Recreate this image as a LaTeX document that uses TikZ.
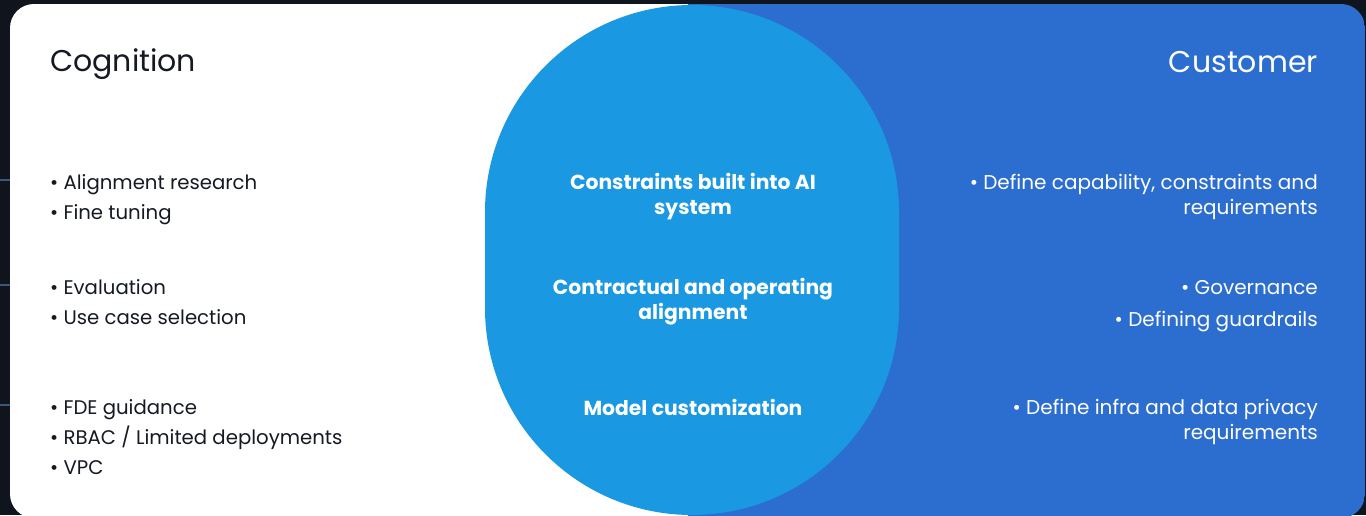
\documentclass[tikz,border=0pt]{standalone}
\usepackage{fontspec}
\setmainfont{Poppins}
\usepackage{tikz}
\usetikzlibrary{positioning}
\definecolor{bgdark}{HTML}{10141C}
\definecolor{tickblue}{HTML}{3D5680}
\definecolor{inkdark}{HTML}{151A22}
\definecolor{skyblue}{HTML}{1A98E1}
\definecolor{panelblue}{HTML}{2C6DD0}
\tikzset{
  heading/.style={font=\fontsize{30}{36}\selectfont, inner sep=0pt},
  leftlist/.style={anchor=west, align=left, inner sep=0pt, text=inkdark, font=\fontsize{19.7}{30}\selectfont},
  midlist/.style={align=center, inner sep=0pt, text=white, font=\fontsize{20.3}{25}\selectfont\bfseries},
  rightlist/.style={anchor=east, align=right, inner sep=0pt, text=white, font=\fontsize{20}{25}\selectfont}
}

\begin{document}
\begin{tikzpicture}[x=1pt,y=1pt]
\useasboundingbox (0,0) rectangle (1366,515);
\fill[bgdark] (0,0) rectangle (1366,515);
\foreach \y in {335,230,110} {
\draw[tickblue, line width=1.5pt] (0,\y) -- (10,\y);
}
% the two panels
\begin{scope}
\clip[rounded corners=24pt] (10,-3) rectangle (1365,511);
\fill[white] (10,-3) rectangle (688,511);
\fill[panelblue] (688,-3) rectangle (1365,511);
\end{scope}
% overlap
\fill[skyblue] (485,303) arc[start angle=180, end angle=0, radius=207] -- (899,207)
  arc[start angle=0, end angle=-180, radius=207] -- cycle;

\node[heading, anchor=west, text=inkdark] (cognition) at (50,451) {Cognition};
\node[heading, anchor=east, text=white] (customer) at (1318,453) {Customer};

\node[leftlist] (research) at (50,315) {• Alignment research\\• Fine tuning};
\node[leftlist] (evaluation) at (50,212.5) {• Evaluation\\• Use case selection};
\node[leftlist] (deploy) at (50,78) {• FDE guidance\\• RBAC / Limited deployments\\• VPC};

\node[midlist] (constraints) at (693,318) {Constraints built into AI\\system};
\node[midlist] (contractual) at (693,213) {Contractual and operating\\alignment};
\node[midlist] (custom) at (693,108) {Model customization};

\node[rightlist] (capability) at (1318,318.5) {• Define capability, constraints and\\requirements};
\node[rightlist] (governance) at (1318,227) {• Governance};
\node[rightlist] (guardrails) at (1318,193) {• Defining guardrails};
\node[rightlist] (privacy) at (1318,93.5) {• Define infra and data privacy\\requirements};
\end{tikzpicture}
\end{document}
